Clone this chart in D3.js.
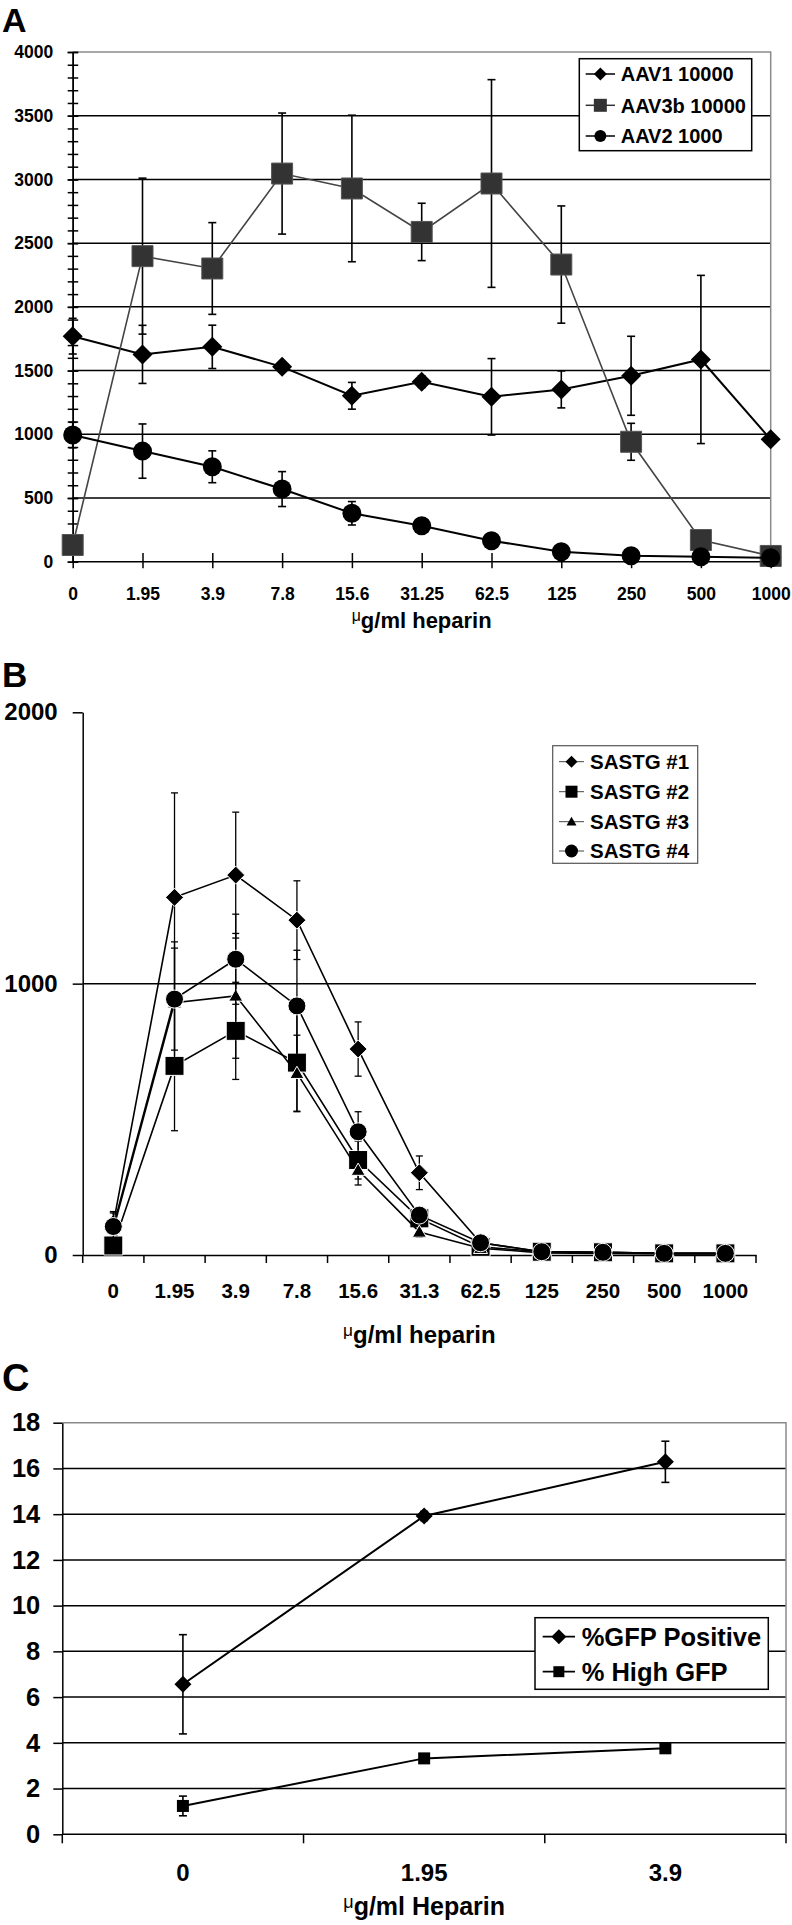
<!DOCTYPE html>
<html><head><meta charset="utf-8">
<script src="https://cdn.jsdelivr.net/npm/d3@7"></script>
<style>
body{margin:0;background:#fff}
svg{display:block}
text{font-family:"Liberation Sans",Arial,Helvetica,sans-serif;font-weight:bold;fill:#000}
</style>
</head><body><svg id="c" width="792" height="1925"></svg>
<script>
// ---------------- DATA ----------------
// Panel A
const catsA = ["0","1.95","3.9","7.8","15.6","31.25","62.5","125","250","500","1000"];
const ticksA = [0,500,1000,1500,2000,2500,3000,3500,4000];
const aav1 = [1770,1627,1686,1529,1302,1412,1294,1352,1459,1587,960];
const aav1Err = [140,228,170,40,105,45,300,145,310,660,0];
const aav3b = [131,2398,2301,3046,2929,2588,2968,2332,941,170,45];
const aav3bErr = [0,612,360,475,575,225,815,460,145,0,0];
const aav2 = [994,868,745,570,380,282,165,78,47,39,31];
const aav2Err = [100,213,125,137,92,30,30,0,0,0,0];
const namesA = ["AAV1 10000","AAV3b 10000","AAV2 1000"];

// Panel B
const catsB = ["0","1.95","3.9","7.8","15.6","31.3","62.5","125","250","500","1000"];
const ticksB = [0,1000,2000];
const sastg1 = [115,1318,1400,1234,759,303,45,12,10,6,6];
const sastg1Err = [40,385,232,145,100,62,10,0,0,0,0];
const sastg2 = [35,697,826,709,350,135,30,12,10,6,6];
const sastg2Err = [0,239,179,181,70,25,0,0,0,0,0];
const sastg3 = [95,930,955,670,313,85,25,8,6,4,4];
const sastg3Err = [0,224,230,140,55,20,0,0,0,0,0];
const sastg4 = [105,943,1090,918,454,147,45,12,10,6,6];
const sastg4Err = [55,188,166,205,74,25,0,0,0,0,0];
const namesB = ["SASTG #1","SASTG #2","SASTG #3","SASTG #4"];

// Panel C
const catsC = ["0","1.95","3.9"];
const ticksC = [0,2,4,6,8,10,12,14,16,18];
const gfpPos = [6.56,13.92,16.29];
const gfpPosErr = [2.17,0.2,0.9];
const gfpHigh = [1.24,3.32,3.76];
const gfpHighErr = [0.43,0.08,0.08];
const namesC = ["%GFP Positive","% High GFP"];

// ---------------- HELPERS ----------------
const svg = d3.select("#c");
svg.append("rect").attr("width",792).attr("height",1925).attr("fill","#fff");
const fmt = d3.format("d");

function symPath(type, s){
  if(type==="diamond") return `M0,${-s}L${s},0L0,${s}L${-s},0Z`;
  if(type==="square") return `M${-s},${-s}h${2*s}v${2*s}h${-2*s}Z`;
  if(type==="triangle") return `M0,${-s}L${s},${s*0.75}L${-s},${s*0.75}Z`;
  return null;
}
function marker(g, type, x, y, s, fill, stroke, sw){
  if(type==="circle"){
    g.append("circle").attr("cx",x).attr("cy",y).attr("r",s)
      .attr("fill",fill).attr("stroke",stroke||"none").attr("stroke-width",sw||0);
  } else {
    g.append("path").attr("d",symPath(type,s)).attr("transform",`translate(${x},${y})`)
      .attr("fill",fill).attr("stroke",stroke||"none").attr("stroke-width",sw||0);
  }
}
function styleAxis(g, fs){
  g.attr("font-family",null).attr("font-size",null);
  g.selectAll("text").style("font-size",fs+"px").attr("fill","#000");
  g.selectAll("line").attr("stroke","#000").attr("stroke-width",1.5);
  g.select(".domain").attr("stroke","#000").attr("stroke-width",1.5);
}
function drawSeries(g, x, y, cats, vals, errs, opt){
  const line = d3.line().x((d,i)=>x(cats[i])).y(d=>y(d));
  vals.forEach((v,i)=>{
    const e = errs[i]; if(!e) return;
    const cx = x(cats[i]);
    g.append("line").attr("x1",cx).attr("x2",cx).attr("y1",y(v+e)).attr("y2",y(Math.max(v-e,0)))
      .attr("stroke","#000").attr("stroke-width",opt.ew);
    [v+e, v-e].forEach(t=>{
      if(t<0) return;
      g.append("line").attr("x1",cx-opt.cap).attr("x2",cx+opt.cap).attr("y1",y(t)).attr("y2",y(t))
        .attr("stroke","#000").attr("stroke-width",opt.ew);
    });
  });
  g.append("path").datum(vals).attr("d",line).attr("fill","none")
    .attr("stroke",opt.lc).attr("stroke-width",opt.lw);
  vals.forEach((v,i)=>marker(g, opt.type, x(cats[i]), y(v), opt.size, opt.fill, opt.ms, opt.msw));
}
function muTitle(x, y, rest, fs){
  const t = svg.append("text").attr("x",x).attr("y",y).attr("text-anchor","middle").style("font-size",fs+"px");
  t.append("tspan").text("μ").style("font-size",(fs*0.72)+"px").style("font-weight","normal").attr("dy",-fs*0.3);
  t.append("tspan").text(rest).attr("dy",fs*0.3);
}
function legend(items, box, rows, lx1, lx2, tx, fs, bstroke, bw){
  svg.append("rect").attr("x",box[0]).attr("y",box[1]).attr("width",box[2]-box[0]).attr("height",box[3]-box[1])
    .attr("fill","#fff").attr("stroke",bstroke).attr("stroke-width",bw);
  items.forEach((it,i)=>{
    const y = rows[i];
    svg.append("line").attr("x1",lx1).attr("x2",lx2).attr("y1",y).attr("y2",y)
      .attr("stroke",it.lc).attr("stroke-width",it.lw);
    marker(svg, it.type, (lx1+lx2)/2, y, it.size, it.fill, it.ms, it.msw);
    svg.append("text").attr("x",tx).attr("y",y).attr("dy","0.36em").style("font-size",fs+"px").text(it.name);
  });
}

// ---------------- PANEL A ----------------
{
  const L=72.7, R=770.7, T=52, B=561.7;
  const x = d3.scalePoint().domain(catsA).range([L,R]);
  const y = d3.scaleLinear().domain([0,4000]).range([B,T]);
  const g = svg.append("g");
  svg.append("text").attr("x",2).attr("y",32).style("font-size","34px").text("A");
  g.selectAll(".gA").data(ticksA.filter(v=>v>0&&v<4000)).enter().append("line")
    .attr("x1",L).attr("x2",R).attr("y1",d=>y(d)).attr("y2",d=>y(d)).attr("stroke","#000").attr("stroke-width",1.5);
  g.append("path").attr("d",`M${L},${y(4000)}H${R}V${B}`).attr("fill","none").attr("stroke","#8a8a8a").attr("stroke-width",1.5);
  const minor = g.append("g").attr("transform",`translate(${L},0)`)
    .call(d3.axisLeft(y).tickValues(d3.range(0,4001,100)).tickFormat("").tickSize(5).tickSizeOuter(0));
  styleAxis(minor,17); minor.selectAll(".tick line").attr("x1",5.5);
  const ya = g.append("g").attr("transform",`translate(${L},0)`)
    .call(d3.axisLeft(y).tickValues(ticksA).tickFormat(fmt).tickSize(5).tickPadding(14.4).tickSizeOuter(0));
  styleAxis(ya,17.5); ya.selectAll(".tick line").attr("x1",5.5);
  const xa = g.append("g").attr("transform",`translate(0,${B})`)
    .call(d3.axisBottom(x).tickSize(6.5).tickPadding(19).tickSizeOuter(0));
  styleAxis(xa,17.5); xa.selectAll(".tick line").attr("y1",-8.7);
  xa.select(".domain").attr("d",`M${L},0H${R}`);
  muTitle((L+R)/2, 628, "g/ml heparin", 22);
  const sg = svg.append("g");
  drawSeries(sg, x, y, catsA, aav1, aav1Err, {type:"diamond",size:10,fill:"#000",lc:"#000",lw:2,ew:1.6,cap:4});
  drawSeries(sg, x, y, catsA, aav3b, aav3bErr, {type:"square",size:10.5,fill:"#333",ms:"#555",msw:1,lc:"#444",lw:1.6,ew:1.6,cap:4});
  drawSeries(sg, x, y, catsA, aav2, aav2Err, {type:"circle",size:9.5,fill:"#000",lc:"#000",lw:2,ew:1.6,cap:4});
  legend([
    {name:namesA[0],type:"diamond",size:6.5,fill:"#000",lc:"#000",lw:1.5},
    {name:namesA[1],type:"square",size:6.5,fill:"#333",lc:"#333",lw:1.5},
    {name:namesA[2],type:"circle",size:6,fill:"#000",lc:"#000",lw:1.5}
  ],[579.3,58.7,751.7,150.7],[74,105.3,136],585.7,615,620.7,20,"#000",1.5);
}

// ---------------- PANEL B ----------------
{
  const L=82.7, R=756, B=1255, T=712.3;
  const x = d3.scaleBand().domain(catsB).range([L,R]);
  const xc = c=>x(c)+x.bandwidth()/2;
  const y = d3.scaleLinear().domain([0,2000]).range([B,T]);
  svg.append("text").attr("x",2).attr("y",687).style("font-size","35px").text("B");
  const g = svg.append("g");
  g.selectAll(".gB").data(ticksB.filter(v=>v>0&&v<2000)).enter().append("line")
    .attr("x1",L).attr("x2",R).attr("y1",d=>y(d)).attr("y2",d=>y(d)).attr("stroke","#000").attr("stroke-width",1.5);
  const ya = g.append("g").attr("transform",`translate(${L},0)`)
    .call(d3.axisLeft(y).tickValues(ticksB).tickFormat(fmt).tickSize(10).tickPadding(15).tickSizeOuter(0));
  styleAxis(ya,24);
  const xa = g.append("g").attr("transform",`translate(0,${B})`)
    .call(d3.axisBottom(x).tickSize(0).tickPadding(28).tickSizeOuter(0));
  styleAxis(xa,20.5);
  g.selectAll(".bt").data(catsB.map(c=>x(c)).concat([R])).enter().append("line")
    .attr("x1",d=>d).attr("x2",d=>d).attr("y1",B).attr("y2",B+8).attr("stroke","#000").attr("stroke-width",1.5);
  muTitle((L+R)/2, 1343, "g/ml heparin", 24);
  const sg = svg.append("g");
  const xf = c=>xc(c);
  const base = {ew:1.3,cap:3.5,lc:"#000",lw:1.6,fill:"#000",ms:"#fff",msw:1};
  drawSeries(sg, xf, y, catsB, sastg1, sastg1Err, Object.assign({},base,{type:"diamond",size:9}));
  drawSeries(sg, xf, y, catsB, sastg2, sastg2Err, Object.assign({},base,{type:"square",size:9.5}));
  drawSeries(sg, xf, y, catsB, sastg3, sastg3Err, Object.assign({},base,{type:"triangle",size:7}));
  drawSeries(sg, xf, y, catsB, sastg4, sastg4Err, Object.assign({},base,{type:"circle",size:9}));
  legend([
    {name:namesB[0],type:"diamond",size:6,fill:"#000",lc:"#444",lw:1},
    {name:namesB[1],type:"square",size:6,fill:"#000",lc:"#444",lw:1},
    {name:namesB[2],type:"triangle",size:5,fill:"#000",lc:"#444",lw:1},
    {name:namesB[3],type:"circle",size:6.5,fill:"#000",lc:"#444",lw:1}
  ],[552.7,745.7,697.7,863.3],[761.7,791.7,821.7,851],559,584,590,20.5,"#555",1.2);
}

// ---------------- PANEL C ----------------
{
  const L=62.3, R=786, T=1422.7, B=1834.3;
  const x = d3.scaleBand().domain(catsC).range([L,R]);
  const y = d3.scaleLinear().domain([0,18]).range([B,T]);
  svg.append("text").attr("x",2).attr("y",1391).style("font-size","38px").text("C");
  const g = svg.append("g");
  g.selectAll(".gC").data(ticksC.filter(v=>v>0&&v<18)).enter().append("line")
    .attr("x1",L).attr("x2",R).attr("y1",d=>y(d)).attr("y2",d=>y(d)).attr("stroke","#000").attr("stroke-width",1.5);
  g.append("path").attr("d",`M${L},${y(18)}H${R}V${B}`).attr("fill","none").attr("stroke","#8a8a8a").attr("stroke-width",1.5);
  const ya = g.append("g").attr("transform",`translate(${L},0)`)
    .call(d3.axisLeft(y).tickValues(ticksC).tickFormat(fmt).tickSize(9).tickPadding(13).tickSizeOuter(0));
  styleAxis(ya,25.5);
  const xa = g.append("g").attr("transform",`translate(0,${B})`)
    .call(d3.axisBottom(x).tickSize(0).tickPadding(30).tickSizeOuter(0));
  styleAxis(xa,24);
  xa.select(".domain").attr("d",`M${L},0H${R}`);
  g.selectAll(".ct").data(catsC.map(c=>x(c)).concat([R])).enter().append("line")
    .attr("x1",d=>d).attr("x2",d=>d).attr("y1",B).attr("y2",B+9).attr("stroke","#000").attr("stroke-width",1.5);
  muTitle((L+R)/2, 1915, "g/ml Heparin", 25);
  const xf = c=>x(c)+x.bandwidth()/2;
  const sg = svg.append("g");
  drawSeries(sg, xf, y, catsC, gfpPos, gfpPosErr, {type:"diamond",size:8.5,fill:"#000",lc:"#000",lw:2,ew:1.6,cap:4});
  drawSeries(sg, xf, y, catsC, gfpHigh, gfpHighErr, {type:"square",size:6,fill:"#000",lc:"#000",lw:2,ew:1.6,cap:4});
  legend([
    {name:namesC[0],type:"diamond",size:7.5,fill:"#000",lc:"#000",lw:1.8},
    {name:namesC[1],type:"square",size:5.5,fill:"#000",lc:"#000",lw:1.8}
  ],[535,1617.7,768.3,1689.3],[1636.7,1671.7],542.7,575,581.7,25.5,"#000",1.5);
}
</script></body></html>
